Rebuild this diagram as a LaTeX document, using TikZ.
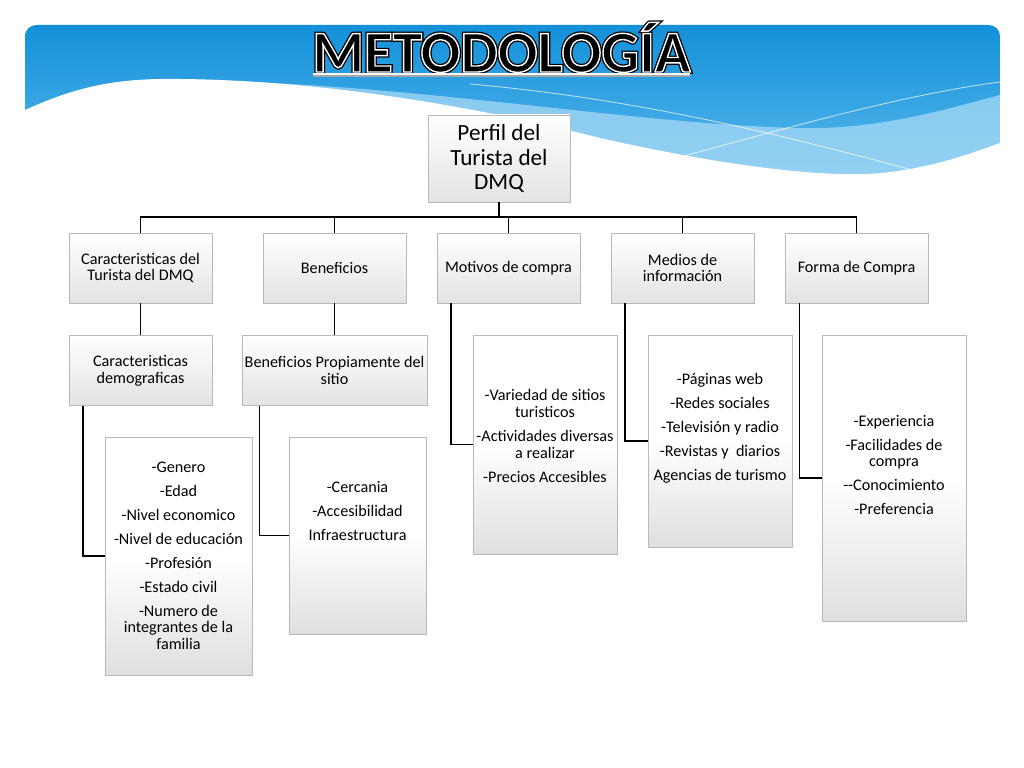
\documentclass[tikz,border=0pt]{standalone}
\usepackage{fontspec}
\setmainfont{Carlito}
\usepackage{tikz}
\usetikzlibrary{positioning, calc, shadows}

\definecolor{bannerblue}{HTML}{1390D9}
\definecolor{bannerlight}{HTML}{5DBBEE}
\definecolor{wavelight}{HTML}{A6D9F5}

% stroked text: #1 line width, #2 stroke rgb, #3 text
\newcommand{\strokedtext}[3]{\special{pdf:literal direct #1 w #2 RG 2 Tr}#3\special{pdf:literal direct 0 Tr}}

\begin{document}
\begin{tikzpicture}[
    x=0.025cm, y=-0.025cm,
    box/.style={draw=gray!55, line width=0.5pt, top color=white, bottom color=gray!22,
      align=center, font=\fontsize{11.5}{12}\selectfont, inner sep=2pt,
      drop shadow={shadow xshift=0.7pt, shadow yshift=-0.7pt, opacity=0.25}},
    lvl/.style={box, minimum width=3.575cm, minimum height=1.75cm},
    list/.style={box, top color=white, bottom color=gray!25, middle color=white},
    listtxt/.style={align=center, font=\fontsize{11.5}{12}\selectfont, inner sep=0pt},
    link/.style={line width=1.3pt, black},
    title/.style={font=\fontsize{42}{42}\selectfont\bfseries, inner sep=0pt, anchor=base, text=black}
  ]
  \useasboundingbox (0,0) rectangle (1024,768);

  % Banner
  \begin{scope}
    \clip[rounded corners=8pt] (25,25) rectangle (1000,300);
    \shade[top color=bannerblue, bottom color=bannerlight] (25,25) rectangle (1000,185);
    \fill[wavelight, opacity=0.75] (250,82) .. controls (450,90) and (650,125) .. (800,128)
      .. controls (880,130) and (950,108) .. (1000,95) -- (1000,185) -- (250,185) -- cycle;
    \fill[white] (25,110) .. controls (80,85) and (120,78) .. (180,79)
      .. controls (300,80) and (450,100) .. (600,138)
      .. controls (720,165) and (830,180) .. (890,172)
      .. controls (940,166) and (980,150) .. (1000,143) -- (1000,190) -- (25,190) -- cycle;
    \draw[white, opacity=0.7, line width=0.6pt] (470,84) .. controls (650,100) and (800,140) .. (920,172);
    \draw[white, opacity=0.7, line width=0.6pt] (640,168) .. controls (780,130) and (900,95) .. (1000,82);
  \end{scope}

  % Title
  \node[title] (titleout) at (501.5,72) {\strokedtext{2.8}{0 0 0}{METODOLOGÍA}};
  \node[title] (title) at (501.5,72) {\strokedtext{1.0}{1 1 1}{METODOLOGÍA}};
  \draw[gray!70, line width=1.3pt] (313,76) -- (690,76);
  \draw[white, line width=0.8pt] (313,74) -- (690,74);

  % Root
  \node[box, minimum width=3.55cm, minimum height=2.175cm, font=\fontsize{16.5}{17.7}\selectfont]
    (root) at (499,158.5) {Perfil del\\Turista del\\DMQ};
  \coordinate (bus) at (499,217);

  % Level 1
  \node[lvl] (car)  at (140.5,268) {Caracteristicas del\\Turista del DMQ};
  \node[lvl] (ben)  at (334.5,268) {Beneficios};
  \node[lvl] (mot)  at (508.5,268) {Motivos de compra};
  \node[lvl] (med)  at (682.5,268) {Medios de\\información};
  \node[lvl] (for)  at (856.5,268) {Forma de Compra};

  % Level 2
  \node[lvl] (dem)  at (140.5,370.5) {Caracteristicas\\demograficas};
  \node[lvl, minimum width=4.575cm] (prop) at (334.5,370.5) {Beneficios Propiamente del\\sitio};

  % Lists
  \node[list, minimum width=3.675cm, minimum height=5.95cm]  (gen)  at (178.5,556) {};
  \node[list, minimum width=3.425cm, minimum height=4.925cm] (cerc) at (357.5,535.5) {};
  \node[list, minimum width=3.6cm, minimum height=5.475cm]   (var)  at (545,444.5) {};
  \node[list, minimum width=3.6cm, minimum height=5.3cm]     (pag)  at (720,441) {};
  \node[list, minimum width=3.6cm, minimum height=7.15cm]    (exp)  at (894,478) {};

  \node[listtxt] (gentxt) at (178.5,556) {-Genero\\[5pt]-Edad\\[5pt]-Nivel economico\\[5pt]-Nivel de educación\\[5pt]-Profesión\\[5pt]-Estado civil\\[5pt]-Numero de\\integrantes de la\\familia};
  \node[listtxt] (cerctxt) at (357.5,511) {-Cercania\\[5pt]-Accesibilidad\\[5pt]Infraestructura};
  \node[listtxt] (vartxt) at (545,436) {-Variedad de sitios\\turisticos\\[5pt]-Actividades diversas\\a realizar\\[5pt]-Precios Accesibles};
  \node[listtxt] (pagtxt) at (720,428) {-Páginas web\\[5pt]-Redes sociales\\[5pt]-Televisión y radio\\[5pt]-Revistas y~~diarios\\[5pt]Agencias de turismo};
  \node[listtxt] (exptxt) at (894,465) {-Experiencia\\[5pt]-Facilidades de\\compra\\[5pt]-{}-Conocimiento\\[5pt]-Preferencia};

  % Connectors
  \draw[link] (root) -- (bus);
  \foreach \n in {car, ben, mot, med, for}
    \draw[link] (bus) -| (\n);
  \draw[link] (car) -- (dem);
  \draw[link] (ben) -- (prop);
  \draw[link] ([xshift=0.35cm]dem.south west) |- (gen);
  \draw[link] ([xshift=0.45cm]prop.south west) |- (cerc);
  \draw[link] ([xshift=0.35cm]mot.south west) |- (var);
  \draw[link] ([xshift=0.35cm]med.south west) |- (pag);
  \draw[link] ([xshift=0.37cm]for.south west) |- (exp);
\end{tikzpicture}
\end{document}
